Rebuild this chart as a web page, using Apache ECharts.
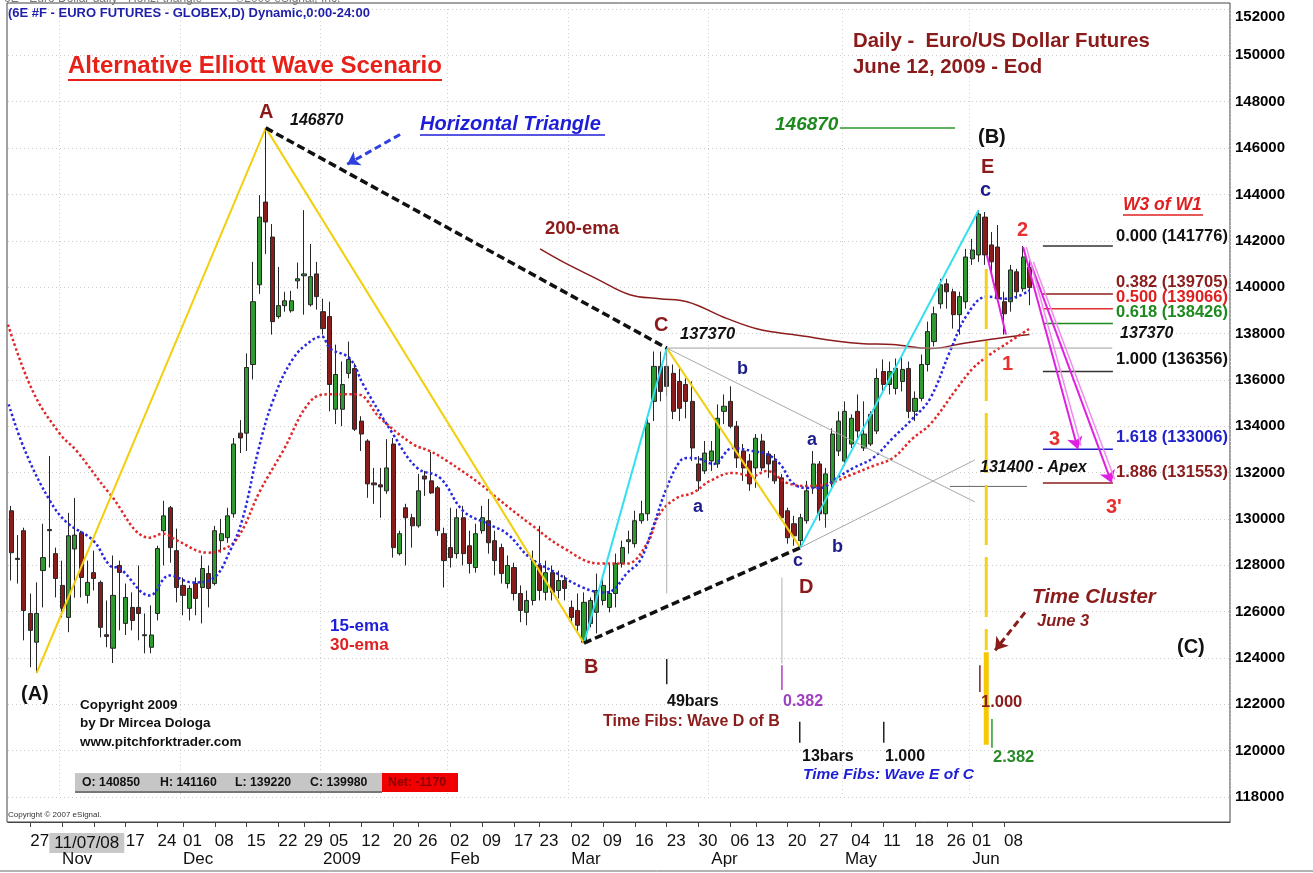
<!DOCTYPE html>
<html>
<head>
<meta charset="utf-8">
<script src="https://cdn.jsdelivr.net/npm/echarts/dist/echarts.min.js"></script>
<style>html,body{margin:0;padding:0;background:#fff}#c{width:1313px;height:873px}</style>
</head>
<body>
<div id="c"></div>
<script>
// ---------------- DATA ----------------
const START_DAY = '2008-10-22';
const HOLIDAYS = ['2008-11-27','2008-12-25','2009-01-01','2009-01-19','2009-02-16','2009-04-10','2009-05-25'];
const N_CATS = 192;

// [open, close, low, high] - daily candles
const ohlc = [
[130350,128540,127340,130560],[128300,128250,127210,129300],[129490,126050,124760,129620],[125920,125190,123600,126780],
[124680,125920,123350,127260],[127770,128330,126180,129790],[129490,129540,127900,132710],[128500,127430,126610,128760],
[127130,126140,125750,128200],[125750,129270,125110,130260],[128700,129300,126600,130900],[129400,127470,126610,129490],
[126700,127260,126350,128200],[127680,127430,126910,128630],[127260,125320,124890,127340],[125000,124930,124460,126480],
[124420,126700,123780,128420],[127990,127690,125190,128200],[125490,126610,124990,127210],[126180,125620,125190,126830],
[126180,125920,124760,127990],[125000,124960,124200,125920],[124460,124990,124200,126270],[125920,128720,125620,128840],
[129490,130130,127990,130780],[130480,128760,128110,130560],[128630,127040,126400,129580],[127130,126700,125840,127470],
[126140,127000,125620,127130],[127210,126570,125840,127470],[127040,127860,125490,128420],[127640,127000,126180,127990],
[127210,129490,127130,129700],[129060,129360,128540,130000],[129190,130130,128970,130480],[130220,133230,130050,133490],
[133700,133490,132840,134260],[133700,136530,132930,137140],[136660,139370,136020,141090],[140100,143020,139710,143970],
[143670,142810,141430,146870],[142160,138510,137950,142720],[138730,139200,138640,140870],[139200,139410,138940,139800],
[138980,139410,138900,139840],[140270,140360,139930,141060],[140490,140570,138810,143320],[139240,140450,139160,141860],
[140570,139590,139030,141090],[138940,138210,137950,139500],[138730,135800,134640,139370],[134730,136230,134090,137520],
[134730,135800,134000,136790],[136280,136880,136060,137650],[136490,133870,133790,136710],[134220,133660,132930,134430],
[133360,131510,130910,133440],[131550,131470,130650,132200],[131470,131380,130050,132200],[131210,132200,131080,133440],
[133230,128760,128330,133490],[128500,129360,128420,129490],[130480,130050,127990,130650],[130050,129700,128760,130220],
[129700,131210,129620,131940],[131850,131720,130990,132070],[131640,131120,131080,132890],[131340,129490,129270,131420],
[129360,128200,127040,129620],[128760,128330,127900,130480],[128500,130050,128290,130440],[130050,128500,127990,130560],
[128840,128070,127640,129490],[127900,129360,127680,129790],[129490,130050,129360,130560],[129920,128970,128500,130860],
[129060,128200,127560,129490],[128760,127640,127210,128930],[127210,127990,127000,128420],[127900,126780,126480,128110],
[126780,126050,125540,127130],[125970,126480,125410,126910],[126480,128200,126270,128630],[127990,126910,126480,129700],
[126830,127680,126480,128200],[127680,126830,126480,127990],[126910,127340,126570,127770],[127340,127000,126480,127560],
[126180,125750,125540,126480],[126050,125410,125060,126780],[124680,126400,124640,126830],[125490,126480,125320,126610],
[125970,126910,125060,127640],[126480,127130,126270,127560],[126180,126780,125970,128070],[126780,128070,126180,128500],
[128070,128760,127900,129060],[129020,129100,128500,129490],[128930,129920,128760,130350],[129920,130220,129790,130780],
[130220,134130,129920,134340],[135070,136580,134220,137220],[136580,135500,135070,137220],[136580,135720,135290,137370],
[136280,134640,134300,136660],[135930,134770,134220,136490],[135800,135070,134340,136060],[135070,133060,132500,135930],
[132370,131640,131210,132710],[132070,132840,131940,133360],[132500,132930,132070,133360],[132370,134340,132200,134940],
[134640,134860,134090,135370],[135070,134000,133910,135720],[134000,132630,132200,134220],[132930,132200,131640,133230],
[132500,131510,131210,132800],[132200,133480,131340,133660],[133360,132200,132070,133660],[132800,132370,131770,132930],
[132500,131640,131510,132800],[131770,130050,129920,131940],[130350,129190,128930,130480],[129790,129270,128840,130130],
[129060,130050,128760,130220],[129920,131210,129790,131640],[131340,132370,131080,132930],[132370,130220,129920,132500],
[130220,131940,129620,132200],[131510,133660,131340,133910],[132930,134220,132710,134640],[132500,134640,132280,135070],
[133230,134340,133060,134510],[134640,133790,133490,135370],[133060,133660,132930,135070],[133230,134510,133140,134640],
[133790,136060,133660,136490],[136360,135800,135500,136880],[135800,136360,135370,136790],[135630,136490,135370,136920],
[135930,136450,135500,137010],[136490,134640,134340,136790],[134640,135200,134220,135500],[135200,136660,135070,137090],
[136660,138080,136360,138510],[137650,138850,137440,139160],[139280,140100,139070,140360],[140140,139800,139070,140360],
[139800,138810,138210,139930],[138810,139590,137950,139800],[139370,141300,139070,141650],[141220,141600,140960,142080],
[141390,143150,141090,143320],[143020,141390,140960,143240],[141820,141090,140530,142380],[141730,139500,139370,142680],
[139370,138850,137950,139800],[139370,140740,138940,140960],[140660,139800,139500,140790],[139930,141300,139800,141776],
[140850,139980,139220,141160]
];

// moving averages: [bar position, value]
const ema15 = [[-0.4,134945],[2.2,132926],[6.1,130778],[8.8,129833],[12.9,129060],[15.5,127986],[17.1,127857],[21.8,126697],
[24.9,127556],[28.6,127256],[31.7,127428],[34.4,128630],[36.4,130048],[38.8,132926],[41.1,135074],[44.3,136921],[47.4,137737],
[48.8,137866],[50.1,137351],[53.2,136921],[55.3,135804],[60.0,133656],[63.8,132196],[67.4,131766],[71.0,130348],[74.8,129790],
[77.9,129360],[81.5,128329],[85.8,127642],[89.8,127041],[93.0,126826],[94.5,126912],[96.7,127642],[98.8,128200],[100.8,129618],
[103.0,131337],[105.1,132497],[106.2,132625],[108.2,132582],[110.3,132367],[113.4,133055],[116.5,132926],[118.7,132797],
[120.8,132367],[122.8,131551],[125.0,131337],[127.1,131337],[129.7,131766],[132.3,132196],[135.4,132625],[138.5,133484],
[141.7,134344],[144.4,135203],[147.5,137222],[150.2,138811],[153.3,139585],[156.5,139499],[160.0,139848]];
const ema30 = [[-0.5,138382],[3.4,135504],[7.7,133656],[10.3,132926],[15.5,131079],[21.8,129189],[23.9,129360],[26.1,129060],
[30.8,128544],[32.8,128630],[35.5,129145],[39.1,131208],[42.7,132926],[47.0,135074],[50.1,135375],[54.3,135375],[58.0,134344],
[63.1,133227],[65.8,132926],[68.5,132496],[73.7,131508],[76.3,130907],[81.5,129790],[86.7,128759],[92.5,128071],[96.7,128071],
[99.9,128930],[101.9,130220],[104.6,130907],[107.1,131122],[109.8,131637],[113.4,131981],[116.5,131852],[118.7,132067],
[121.9,131551],[125.0,131422],[128.2,131508],[132.3,131938],[135.4,132282],[138.5,132625],[141.7,133484],[144.4,134086],
[148.6,135633],[151.1,136492],[153.8,137093],[156.9,137651],[160.0,138210]];
const ema200 = [[83.1,141647],[86.7,141088],[92.0,140358],[97.2,139670],[101.9,139499],[106.2,139370],[112.5,138640],
[117.6,138167],[122.8,137952],[133.4,137566],[138.5,137523],[144.4,137351],[149.5,137566],[154.9,137780],[160.0,137952]];

// Elliott wave pivots [bar, price]
const pA0 = [4, 123350], pA = [40, 146870], pB = [90, 124640], pC = [103, 137370], pD = [124, 128760], pE = [152, 143320];
const triUpperEnd = [151.4, 130735], triLowerEnd = [151.4, 132540];
const apexValue = 131400, apexFrom = 147.5, apexTo = 159.6;
const cLevel = 137370, cLevelTo = 173;
const aLevel = 146870, aLevelFrom = 130.2, aLevelTo = 148.3;
const wave1 = [[153.3, 141390], [156.3, 137955]];
const wave3Arrows = [[[159.0, 141730], [167.6, 133006]], [[160.1, 141090], [172.9, 131553]]];
const fibFrom = 162.1, fibTo = 173.1;
const fibLevels = [['0.000', 141776, '#333333'], ['0.382', 139705, '#8b1c1c'], ['0.500', 139066, '#e03030'],
  ['0.618', 138426, '#1e8a1e'], ['1.000', 136356, '#333333'], ['1.618', 133006, '#2222cc'], ['1.886', 131553, '#8b1c1c']];
// time fib vertical markers: [bar, from, to, color, width]
const timeMarks = [[103, 137350, 126780, '#b0b0b0', 1], [103, 123950, 122870, '#222', 1.5],
  [121.1, 127470, 123750, '#b0b0b0', 1], [121.1, 123690, 122615, '#b040c0', 1.5],
  [123.9, 121250, 120340, '#222', 1.5], [137.1, 121250, 120340, '#222', 1.5],
  [152.2, 123690, 122530, '#8b1c1c', 1.5], [154.1, 121370, 120120, '#2a9a2a', 1.5]];
const clusterBar = 153.2, clusterDash = [140787, 124334], clusterSolid = [124248, 120253];
const arrowTriangle = [[61.1, 146587], [52.8, 145300]];
const arrowCluster = [[159.3, 125966], [154.6, 124334]];
// right axis value flags [value, bg, fg]
const axisFlags = [[139848, '#2b2bd8', '#ffffff'], [138380, '#e02020', '#ffffff'], [137922, '#8b1010', '#ffffff'], [137041, '#c4c4c4', '#000000']];

// tick labels
const dayLabels = {3:'27', 6:'11/07/08', 18:'17', 23:'24', 27:'01', 32:'08', 37:'15', 42:'22', 46:'29', 50:'05', 55:'12',
  60:'20', 64:'26', 69:'02', 74:'09', 79:'17', 83:'23', 88:'02', 93:'09', 98:'16', 103:'23', 108:'30', 113:'06', 117:'13',
  122:'20', 127:'27', 132:'04', 137:'11', 142:'18', 147:'26', 151:'01', 156:'08'};
const weekTicks = [3,8,13,18,23,27,32,37,42,46,50,55,60,64,69,74,79,83,88,93,98,103,108,113,117,122,127,132,137,142,147,151,156];
const monthLabels = {8:'Nov', 27:'Dec', 49:'2009', 69:'Feb', 88:'Mar', 110:'Apr', 131:'May', 151:'Jun'};

// ---------------- BUILD ----------------
function buildDays(start, n, holidays) {
  const out = []; const d = new Date(start + 'T12:00:00Z');
  while (out.length < n) {
    const wd = d.getUTCDay(); const s = d.toISOString().slice(0, 10);
    if (wd !== 0 && wd !== 6 && holidays.indexOf(s) < 0) out.push(s);
    d.setUTCDate(d.getUTCDate() + 1);
  }
  return out;
}
const categories = buildDays(START_DAY, N_CATS, HOLIDAYS);
const FONT = '"Liberation Sans", Arial, Helvetica, sans-serif';

function seg(points, color, width, type, z) {
  return {type: 'line', xAxisIndex: 2, yAxisIndex: 0, data: points, symbol: 'none', silent: true, animation: false,
    z: z || 4, lineStyle: {color: color, width: width, type: type || 'solid'}};
}
function arrowLine(p1, p2, color, width, type) {
  return {type: 'line', xAxisIndex: 2, yAxisIndex: 0, data: [], silent: true, animation: false, z: 6,
    markLine: {silent: true, animation: false, symbol: ['none', 'arrow'], symbolSize: 12,
      lineStyle: {color: color, width: width, type: type}, label: {show: false},
      data: [[{coord: p1}, {coord: p2}]]}};
}

const series = [];
series.push({type: 'candlestick', xAxisIndex: 0, yAxisIndex: 0, data: ohlc, barWidth: 4.6, z: 3, silent: true,
  itemStyle: {color: '#2f9a2f', color0: '#8b1c1c', borderColor: '#262626', borderColor0: '#262626', borderWidth: 1}});
series.push(Object.assign(seg(ema200, '#8b1c1c', 1.5), {smooth: 0.4}));
series.push(Object.assign(seg(ema30, '#e02828', 2.5, [2.5, 2.5]), {smooth: 0.4}));
series.push(Object.assign(seg(ema15, '#2828e0', 2.5, [2.5, 2.5]), {smooth: 0.4}));
// triangle & waves
series.push(seg([pC, triUpperEnd], '#a8a8a8', 1));
series.push(seg([pD, triLowerEnd], '#a8a8a8', 1));
series.push(seg([pC, [cLevelTo, cLevel]], '#a0a0a0', 1));
series.push(seg([[apexFrom, apexValue], [apexTo, apexValue]], '#666', 1));
series.push(seg([[aLevelFrom, aLevel], [aLevelTo, aLevel]], '#2a9a2a', 1.5));
series.push(seg([pA0, pA, pB], '#f2d010', 2, 'solid', 5));
series.push(seg([pC, pD], '#f2d010', 2, 'solid', 5));
series.push(seg([pB, pC], '#33e0f0', 2, 'solid', 5));
series.push(seg([pD, pE], '#33e0f0', 2, 'solid', 5));
series.push(seg([pA, pC], '#111', 3.5, [8, 4], 6));
series.push(seg([pB, pD], '#111', 3.5, [8, 4], 6));
fibLevels.forEach(f => series.push(seg([[fibFrom, f[1]], [fibTo, f[1]]], f[2], 1.5)));
timeMarks.forEach(t => series.push(seg([[t[0], t[1]], [t[0], t[2]]], t[3], t[4])));
series.push(seg([[clusterBar, clusterDash[0]], [clusterBar, clusterDash[1]]], '#f5d020', 3, [60, 12], 5));
series.push(seg([[clusterBar, clusterSolid[0]], [clusterBar, clusterSolid[1]]], '#f5c800', 5, 'solid', 5));
series.push(seg(wave1, '#e020e0', 2, 'solid', 7));
wave3Arrows.forEach(a => {
  series.push(seg([[a[0][0] + 0.5, a[0][1]], [a[1][0] + 0.5, a[1][1] + 150]], '#f08cf0', 1.5, 'solid', 6));
  series.push(arrowLine(a[0], a[1], '#e020e0', 2, 'solid'));
});
series.push(arrowLine(arrowTriangle[0], arrowTriangle[1], '#3040e0', 3, [7, 4]));
series.push(arrowLine(arrowCluster[0], arrowCluster[1], '#8b1c1c', 3, [7, 4]));
// right axis flags
series.push({type: 'line', xAxisIndex: 2, yAxisIndex: 0, data: [], silent: true, z: 8,
  markLine: {silent: true, animation: false, symbol: 'none',
    data: axisFlags.map(f => ({yAxis: f[0], lineStyle: {opacity: 0},
      label: {show: true, position: 'end', distance: 2, formatter: String(f[0]), backgroundColor: f[1], color: f[2],
        fontFamily: FONT, fontWeight: 'bold', fontSize: 15, padding: [1, 2, 0, 2]}}))}});

// ---------------- TEXT ANNOTATIONS ----------------
function T(x, y, s, size, color, o) {
  o = o || {};
  return {type: 'text', x: x, y: y, z: 100, silent: true, scaleX: o.sx || 1,
    style: {text: s, fill: color, align: 'left', verticalAlign: 'middle',
      font: (o.it ? 'italic ' : '') + (o.n ? '' : 'bold ') + size + 'px ' + FONT}};
}
function L(x1, y1, x2, y2, color, w) {
  return {type: 'line', z: 100, silent: true, shape: {x1: x1, y1: y1, x2: x2, y2: y2}, style: {stroke: color, lineWidth: w}};
}
const DR = '#8b1a1a', NAVY = '#1c1c8c';
const graphics = [
  {type: 'rect', z: 0, silent: true, shape: {x: 7, y: 3, width: 1223, height: 819}, style: {fill: 'none', stroke: '#444', lineWidth: 1}},
  L(0, 871, 1313, 871, '#666', 1),
  T(4, -1, '6E - Euro Dollar daily - Horiz. triangle          \u00a92009 eSignal, Inc.', 12, '#777', {n: true}),
  T(8, 13, '(6E #F - EURO FUTURES - GLOBEX,D) Dynamic,0:00-24:00', 13, '#1e1eaa'),
  T(68, 66, 'Alternative Elliott Wave Scenario', 24, '#e8201a'), L(68, 80, 442, 80, '#e8201a', 2),
  T(853, 41, 'Daily -  Euro/US Dollar Futures', 20.4, DR),
  T(853, 67, 'June 12, 2009 - Eod', 20.4, DR),
  T(259, 112, 'A', 20, DR),
  T(290, 121, '146870', 16, '#111', {it: true}),
  T(420, 124, 'Horizontal Triangle', 20, '#1e1ed8', {it: true}), L(420, 135, 605, 135, '#1e1ed8', 1.5),
  T(775, 125, '146870', 19, '#1e8a1e', {it: true}),
  T(978, 137, '(B)', 20, '#111'),
  T(981, 167, 'E', 20, DR),
  T(980, 190, 'c', 20, NAVY),
  T(1123, 205, 'W3 of W1', 17.5, '#e02020', {it: true}), L(1123, 215, 1203, 215, '#e02020', 1.5),
  T(1017, 230, '2', 20, '#e83030'),
  T(1116, 236, '0.000 (141776)', 16.5, '#111'),
  T(1116, 282, '0.382 (139705)', 16.5, '#8b1c1c'),
  T(1116, 297, '0.500 (139066)', 16.5, '#e02020'),
  T(1116, 312, '0.618 (138426)', 16.5, '#1e8a1e'),
  T(1120, 334, '137370', 16, '#111', {it: true}),
  T(1116, 359, '1.000 (136356)', 16.5, '#111'),
  T(1116, 437, '1.618 (133006)', 16.5, '#2222cc'),
  T(1116, 472, '1.886 (131553)', 16.5, '#8b1c1c'),
  T(1002, 364, '1', 20, '#e83030'),
  T(1049, 439, '3', 20, '#e83030'),
  T(1106, 507, "3'", 20, '#e83030'),
  T(980, 468, '131400 - Apex', 16, '#111', {it: true}),
  T(654, 325, 'C', 20, DR),
  T(680, 334, '137370', 16.5, '#111', {it: true}),
  T(737, 369, 'b', 18, NAVY),
  T(693, 507, 'a', 18, NAVY),
  T(807, 440, 'a', 18, NAVY),
  T(832, 547, 'b', 18, NAVY),
  T(793, 561, 'c', 18, NAVY),
  T(799, 587, 'D', 20, DR),
  T(584, 667, 'B', 20, DR),
  T(21, 694, '(A)', 20, '#111'),
  T(545, 229, '200-ema', 18.5, DR),
  T(330, 626, '15-ema', 17, '#1e1ed8'),
  T(330, 645, '30-ema', 17, '#e02020'),
  T(80, 705, 'Copyright 2009', 13.5, '#111'),
  T(80, 723, 'by Dr Mircea Dologa', 13.5, '#111'),
  T(80, 742, 'www.pitchforktrader.com', 13.5, '#111'),
  {type: 'rect', z: 99, silent: true, shape: {x: 75, y: 773, width: 307, height: 19}, style: {fill: '#c6c6c6'}},
  L(75, 792, 382, 792, '#777', 2),
  {type: 'rect', z: 99, silent: true, shape: {x: 382, y: 773, width: 76, height: 19}, style: {fill: '#f00000'}},
  T(82, 783, 'O: 140850', 12.3, '#111'),
  T(160, 783, 'H: 141160', 12.3, '#111'),
  T(235, 783, 'L: 139220', 12.3, '#111'),
  T(310, 783, 'C: 139980', 12.3, '#111'),
  T(388, 783, 'Net: -1170', 12.3, '#8b0000'),
  T(8, 815, 'Copyright \u00a9 2007 eSignal.', 8, '#333', {n: true}),
  T(667, 702, '49bars', 16, '#111'),
  T(783, 702, '0.382', 16, '#a040c0'),
  T(603, 722, 'Time Fibs: Wave D of B', 16, '#8b1c1c'),
  T(802, 757, '13bars', 16, '#111'),
  T(885, 757, '1.000', 16, '#111'),
  T(803, 775, 'Time Fibs: Wave E of C', 15.5, '#1e1ed8', {it: true}),
  T(981, 702, '1.000', 16.5, '#8b1c1c'),
  T(993, 757, '2.382', 16.5, '#2a8a2a'),
  T(1032, 597, 'Time Cluster', 20.5, '#8b1c1c', {it: true}),
  T(1037, 621, 'June 3', 16.5, '#8b1c1c', {it: true}),
  T(1177, 647, '(C)', 20, '#111')
];

const option = {
  animation: false,
  backgroundColor: '#ffffff',
  grid: {left: 8, right: 83, top: 9, bottom: 76, containLabel: false},
  xAxis: [
    {type: 'category', data: categories, boundaryGap: true, position: 'bottom', offset: 25,
      axisLine: {show: true, lineStyle: {color: '#444', width: 1}},
      axisTick: {show: true, alignWithLabel: true, length: 5, lineStyle: {color: '#444'},
        interval: (i) => weekTicks.indexOf(i) >= 0},
      splitLine: {show: false},
      axisLabel: {show: true, align: 'left', margin: 11, color: '#111', fontFamily: FONT, fontSize: 17,
        interval: (i) => dayLabels[i] !== undefined,
        formatter: (v, i) => i === 6 ? '{hl|' + dayLabels[i] + '}' : (dayLabels[i] || ''),
        rich: {hl: {backgroundColor: '#c8c8c8', padding: [2, 5, 1, 5], fontFamily: FONT, fontSize: 17, color: '#111'}}}},
    {type: 'category', data: categories, boundaryGap: true, position: 'bottom', offset: 25,
      axisLine: {show: false}, axisTick: {show: false},
      splitLine: {show: true, interval: (i) => monthLabels[i] !== undefined, lineStyle: {color: '#cfcfcf', type: [1, 3]}},
      axisLabel: {show: true, align: 'left', margin: 29, color: '#111', fontFamily: FONT, fontSize: 17,
        interval: (i) => monthLabels[i] !== undefined, formatter: (v, i) => monthLabels[i] || ''}},
    {type: 'value', show: false, min: -0.5, max: N_CATS - 0.5, position: 'top'}
  ],
  yAxis: [{type: 'value', position: 'right', min: 118000, max: 152000, interval: 2000, scale: false,
    axisLine: {show: false}, axisTick: {show: false},
    splitLine: {show: true, lineStyle: {color: '#cccccc', type: [1, 3]}},
    axisLabel: {show: true, margin: 5, color: '#000', fontFamily: FONT, fontSize: 15, fontWeight: 'bold', align: 'left',
      formatter: (v) => v === 152000 ? '{t|152000}' : String(v),
      rich: {t: {padding: [16, 0, 0, 0], fontFamily: FONT, fontSize: 15, fontWeight: 'bold', color: '#000'}}}}],
  series: series,
  graphic: graphics
};
const chart = echarts.init(document.getElementById('c'));
chart.setOption(option);
</script>
</body>
</html>
